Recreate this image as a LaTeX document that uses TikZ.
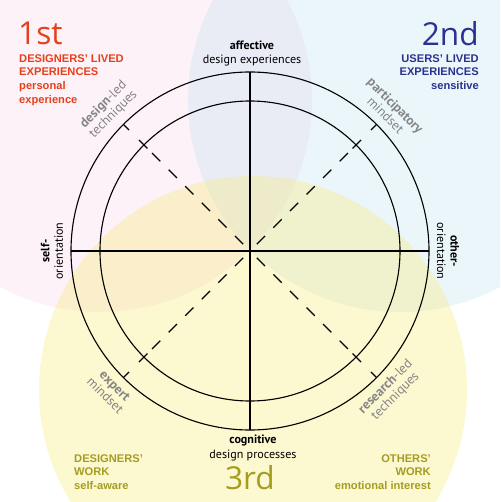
\documentclass[tikz,border=0pt]{standalone}
\usepackage{fontspec}
\setmainfont{PT Sans}
\newfontfamily\headfont{Liberation Sans}
\newfontfamily\numfont{Open Sans}
\usepackage{xcolor}
\usetikzlibrary{positioning}

\definecolor{firstred}{HTML}{E5401B}
\definecolor{secondblue}{HTML}{2B3190}
\definecolor{thirdolive}{HTML}{A59D22}
\definecolor{facetgray}{HTML}{858585}
\definecolor{firstpink}{HTML}{F3BCD8}
\definecolor{secondsky}{HTML}{A3D7EE}
\definecolor{thirdyellow}{HTML}{F6EA78}

\tikzset{
  wheel/.style={line width=0.95pt, black},
  number/.style={font=\numfont\fontsize{27}{30}\selectfont, inner sep=0pt},
  heading/.style={font=\headfont\bfseries\fontsize{9.5}{11.7}\selectfont, inner sep=0pt},
  pole/.style={font=\fontsize{10.3}{11.5}\selectfont, inner sep=0pt},
  facet/.style={font=\fontsize{11.3}{11.8}\selectfont, text=facetgray, align=center, inner sep=0pt}
}

\begin{document}
\begin{tikzpicture}[x=0.03cm, y=0.03cm]
        \useasboundingbox (-250,-251) rectangle (250,251);

        \begin{scope}
        \clip (-250,-251) rectangle (250,251);
        \fill[firstpink, opacity=0.2] (-150,151) circle (212);
        \fill[secondsky, opacity=0.22] (150,151) circle (212);
        \fill[thirdyellow, opacity=0.35] (3,-139) circle (214);
        \end{scope}

        \draw[wheel] (0,0) circle (179);
        \draw[wheel] (0,0) circle (150);
        \draw[wheel] (-179,0) -- (179,0);
        \draw[wheel] (0,179) -- (0,-179);

        \foreach \a in {45,135,225,315} {
        \draw[wheel] (\a:171) -- (\a:179);
        \draw[wheel] (\a:145) -- (\a:157);
        \draw[wheel, dash pattern=on 10pt off 10pt] (\a:138.5) -- (\a:6);
        }

        \node[number, text=firstred, anchor=base west] (first) at (-232,206) {1st};
        \node[heading, text=firstred, anchor=north west, align=left] (firsttext) at (-231,197) {DESIGNERS’ LIVED\\EXPERIENCES\\personal\\experience};

        \node[number, text=secondblue, anchor=base east] (second) at (229,205) {2nd};
        \node[heading, text=secondblue, anchor=north east, align=right] (secondtext) at (229,197) {USERS’ LIVED\\EXPERIENCES\\sensitive};

        \node[number, text=thirdolive, anchor=base] (third) at (0,-238) {3rd};
        \node[heading, text=thirdolive, anchor=north west, align=left] (thirdleft) at (-176,-203) {DESIGNERS’\\WORK\\self-aware};
        \node[heading, text=thirdolive, anchor=north east, align=right] (thirdright) at (181,-203) {OTHERS’\\WORK\\emotional interest};

        \node[pole, anchor=base] (affective) at (2,201) {\textbf{affective}};
        \node[pole, anchor=base] (experiences) at (2,187) {design experiences};
        \node[pole, anchor=base] (cognitive) at (3,-192) {\textbf{cognitive}};
        \node[pole, anchor=base] (processes) at (3,-207) {design processes};

        \node[pole, rotate=90, align=center] (self) at (-198,0) {\textbf{self-}\\orientation};
        \node[pole, rotate=-90, align=center] (other) at (198,0) {\textbf{other-}\\orientation};

        \node[facet, rotate=45] (designled) at (135:200) {\textbf{design}-led\\techniques};
        \node[facet, rotate=-45] (participatory) at (45:199) {\textbf{participatory}\\mindset};
        \node[facet, rotate=-45] (expert) at (225:198) {\textbf{expert}\\mindset};
        \node[facet, rotate=45] (researchled) at (315:199) {\textbf{research}-led\\techniques};

\end{tikzpicture}
\end{document}
